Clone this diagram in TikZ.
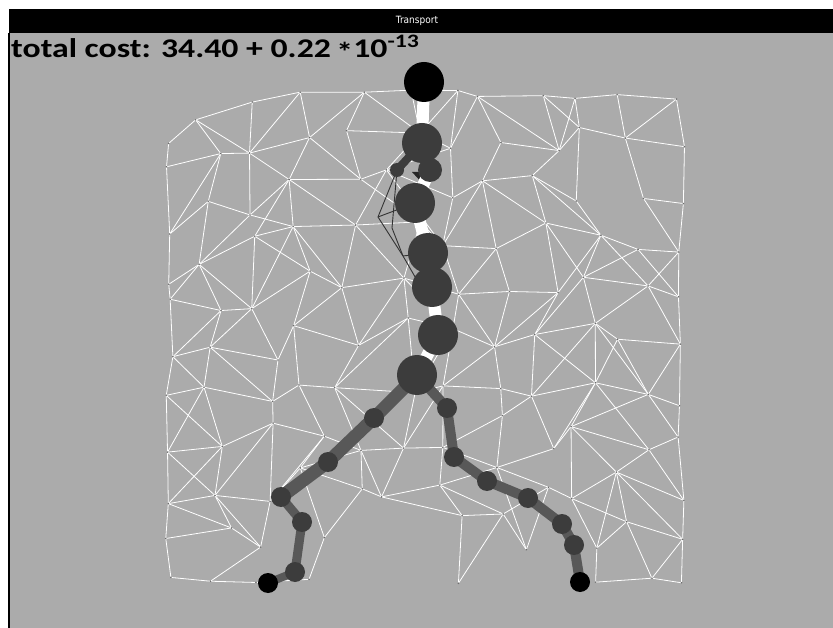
\documentclass[tikz,border=0pt]{standalone}
\usepackage{fontspec}
\setmainfont{Carlito}
\newfontfamily\titlefont{DejaVu Sans Condensed}
\pgfdeclarelayer{back}
\pgfdeclarelayer{bg}
\pgfsetlayers{back,bg,main}
\definecolor{bgray}{RGB}{171,171,171}
\definecolor{nodegray}{RGB}{60,60,60}
\definecolor{edgegray}{RGB}{88,88,88}
\definecolor{dotc}{RGB}{110,110,110}
\begin{document}
\begin{tikzpicture}[x=1pt,y=-1pt,
  mesh/.style={white, line width=0.8pt, line cap=round},
  flow/.style={edgegray, line cap=round},
  trunk/.style={white, line width=12pt},
  thinedge/.style={black!80, line width=0.9pt},
  tnode/.style={circle, fill=nodegray, inner sep=0pt, draw=none},
  endnode/.style={circle, fill=black, inner sep=0pt, draw=none},
  declare function={hole(\a,\b)=(\b>=9)*(\a>=4)*(\a<=5)+(\b>=10)*(\a>=7)*(\a<=8);}
]
\useasboundingbox (0,0) rectangle (833,628);
\begin{pgfonlayer}{back}
  \fill[white] (0,0) rectangle (833,628);
  \fill[black] (9,9) rectangle (833,33);
  \fill[black] (8,33) rectangle (10,628);
  \fill[bgray] (10,33) rectangle (833,628);
\end{pgfonlayer}
\node[white, font=\titlefont\fontsize{10}{10}\selectfont] (title) at (417,21) {Transport};
\node[anchor=base west, inner sep=0pt, font=\fontsize{27}{27}\selectfont\bfseries] (cost) at (11,58)
  {\scalebox{1.25}[1]{total cost: 34.40 + 0.22\,\raisebox{-0.3ex}{*}10\raisebox{10pt}{\fontsize{19}{19}\selectfont -13}}};

% mesh vertices
\pgfmathsetseed{2024}
\foreach \i in {0,...,11}{
  \foreach \j in {0,...,10}{
    \pgfmathsetmacro\xx{168+\i*46.5}
    \pgfmathsetmacro\yt{max(88+(\xx-305)*0.025,140-(\xx-168)*0.37)}
    \pgfmathsetmacro\yy{\yt+\j*(580-\yt)/10}
    \pgfmathsetmacro\jx{(\i>0)*(\i<11)*15+5}
    \pgfmathsetmacro\jy{(\j>0)*(\j<10)*15+4}
    \pgfmathsetmacro\px{\xx+rand*\jx}
    \pgfmathsetmacro\py{\yy+rand*\jy}
    \coordinate (p-\i-\j) at (\px,\py);
  }
}

% tree nodes
\node[endnode, minimum size=40pt] (root) at (424,82) {};
\node[tnode, minimum size=40pt] (t1) at (422,143) {};
\node[tnode, minimum size=24pt] (t2) at (430,170) {};
\node[tnode, minimum size=14pt] (s1) at (397,170) {};
\node[tnode, minimum size=40pt] (t3) at (415,203) {};
\node[tnode, minimum size=40pt] (t4) at (428,253) {};
\node[tnode, minimum size=40pt] (t5) at (432,287) {};
\node[tnode, minimum size=40pt] (t6) at (438,335) {};
\node[tnode, minimum size=40pt] (t7) at (417,375) {};
\node[tnode, minimum size=20pt] (L1) at (374,418) {};
\node[tnode, minimum size=20pt] (L2) at (328,462) {};
\node[tnode, minimum size=20pt] (L3) at (281,497) {};
\node[tnode, minimum size=20pt] (L4) at (302,522) {};
\node[tnode, minimum size=20pt] (L5) at (295,572) {};
\node[endnode, minimum size=20pt] (L6) at (268,583) {};
\node[tnode, minimum size=20pt] (R1) at (447,408) {};
\node[tnode, minimum size=20pt] (R2) at (454,457) {};
\node[tnode, minimum size=20pt] (R3) at (487,481) {};
\node[tnode, minimum size=20pt] (R4) at (528,498) {};
\node[tnode, minimum size=20pt] (R5) at (562,524) {};
\node[tnode, minimum size=20pt] (R6) at (574,545) {};
\node[endnode, minimum size=20pt] (R7) at (580,582) {};
\coordinate (d1) at (378,217);
\coordinate (d2) at (403,256);
\coordinate (d3) at (418,282);
\coordinate (d4) at (392,228);

\begin{pgfonlayer}{bg}
% mesh edges
\foreach \i in {0,...,11}{
  \foreach \j in {0,...,10}{
    \pgfmathtruncatemacro\ip{\i+1}
    \pgfmathtruncatemacro\jp{\j+1}
    \pgfmathtruncatemacro\ha{hole(\i,\j)}
    \pgfmathtruncatemacro\hb{hole(\ip,\j)}
    \pgfmathtruncatemacro\hc{hole(\i,\jp)}
    \pgfmathtruncatemacro\hd{hole(\ip,\jp)}
    \pgfmathtruncatemacro\dA{rnd>0.5}
    \pgfmathtruncatemacro\ex{rnd>0.85}
    \pgfmathtruncatemacro\kr{(rnd>0.1)+(\j==0)+(\j==10)+(\i==0)+(\i==11)>0}
    \pgfmathtruncatemacro\kd{(rnd>0.12)+(\j==0)+(\j==10)+(\i==0)+(\i==11)>0}
    \pgfmathtruncatemacro\kg{rnd>0.25}
    \pgfmathtruncatemacro\okr{(\i<11)*(1-\ha)*(1-\hb)*\kr}
    \pgfmathtruncatemacro\okd{(\j<10)*(1-\ha)*(1-\hc)*\kd}
    \pgfmathtruncatemacro\okA{(\i<11)*(\j<10)*(1-\ha)*(1-\hd)*(((\dA+\ex)>0))*\kg}
    \pgfmathtruncatemacro\okB{(\i<11)*(\j<10)*(1-\hb)*(1-\hc)*(((1-\dA+\ex)>0))*\kg}
    \ifnum\okr=1 \draw[mesh] (p-\i-\j) -- (p-\ip-\j); \fi
    \ifnum\okd=1 \draw[mesh] (p-\i-\j) -- (p-\i-\jp); \fi
    \ifnum\okA=1 \draw[mesh] (p-\i-\j) -- (p-\ip-\jp); \fi
    \ifnum\okB=1 \draw[mesh] (p-\ip-\j) -- (p-\i-\jp); \fi
  }
}
\foreach \i in {0,...,11}{
  \foreach \j in {0,...,10}{
    \pgfmathtruncatemacro\ha{hole(\i,\j)}
    \ifnum\ha=0 \fill[dotc] (p-\i-\j) circle (0.9pt); \fi
  }
}
% dark thin lines
\draw[thinedge] (s1.center) -- (d1) -- (d2) -- (d3);
\draw[thinedge] (s1.center) -- (d4) -- (d2);
\draw[thinedge] (d1) -- (t3.center);
\draw[thinedge] (d2) -- (t4.center);
\fill[black!85] (412,172) -- (421,172) -- (424,185) -- cycle;
% trunk
\draw[trunk] (root.center) -- (t1.center) -- (t2.center) -- (t3.center) -- (t4.center)
  -- (t5.center) -- (t6.center) -- (t7.center);
\draw[flow, nodegray, line width=8pt] (s1.center) -- (t1.center);
% left branch
\draw[flow, line width=13pt] (t7.center) -- (L1.center) -- (L2.center) -- (L3.center);
\draw[flow, line width=9pt] (L3.center) -- (L4.center) -- (L5.center);
\draw[flow, line width=8pt] (L5.center) -- (L6.center);
% right branch
\draw[flow, line width=10pt] (t7.center) -- (R1.center) -- (R2.center) -- (R3.center)
  -- (R4.center) -- (R5.center) -- (R6.center) -- (R7.center);
\end{pgfonlayer}
\end{tikzpicture}
\end{document}
